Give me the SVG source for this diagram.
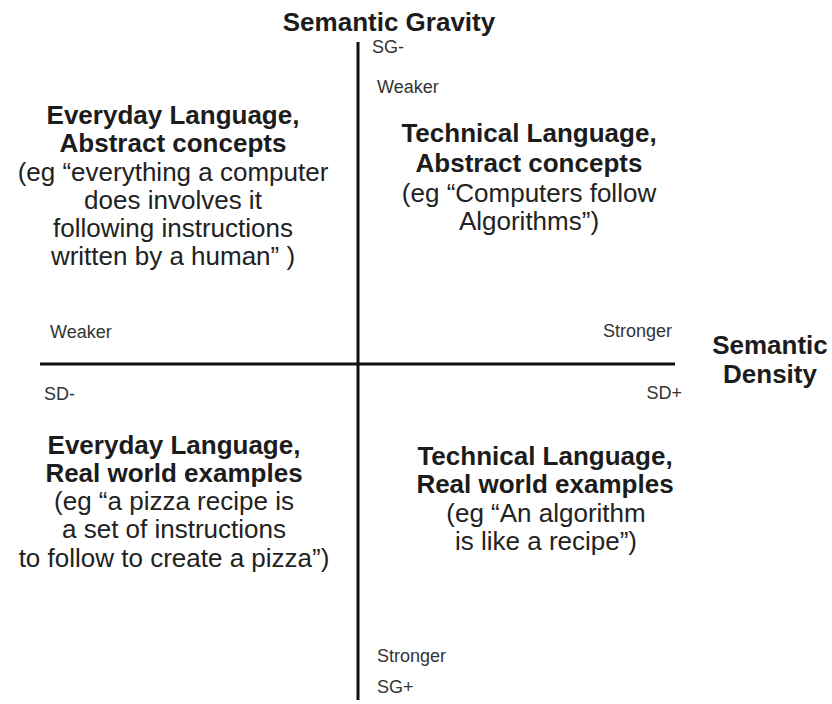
<svg xmlns="http://www.w3.org/2000/svg" width="832" height="704" viewBox="0 0 832 704">
  <style>
    text { font-family: "Liberation Sans", Arial, Helvetica, sans-serif; fill: #1c1c1c; }
    .title { font-size: 26px; font-weight: bold; text-anchor: middle; }
    .block { font-size: 26px; text-anchor: middle; fill: #222; }
    .b { font-weight: bold; fill: #1c1c1c; }
    .small { font-size: 18px; fill: #333; }
    .axis { stroke: #111; stroke-width: 3; fill: none; }
  </style>
  <rect width="832" height="704" fill="#ffffff"/>
  <g id="axes">
    <line class="axis" x1="358" y1="42" x2="358" y2="700"/>
    <line class="axis" x1="40" y1="364" x2="675" y2="364"/>
  </g>
  <g id="axis-labels">
    <text class="title" x="389" y="31">Semantic Gravity</text>
    <text class="title" x="770" y="354">Semantic<tspan x="770" y="383">Density</tspan></text>
    <text class="small" x="372" y="53">SG-</text>
    <text class="small" x="377" y="93">Weaker</text>
    <text class="small" x="50" y="338">Weaker</text>
    <text class="small" x="672" y="337" text-anchor="end">Stronger</text>
    <text class="small" x="44" y="400">SD-</text>
    <text class="small" x="682" y="399" text-anchor="end">SD+</text>
    <text class="small" x="377" y="662">Stronger</text>
    <text class="small" x="377" y="693">SG+</text>
  </g>
  <g id="q-everyday-abstract">
    <text class="block" x="173" y="124"><tspan class="b" x="173" y="124">Everyday Language,</tspan><tspan class="b" x="173" y="152">Abstract concepts</tspan><tspan x="173" y="181">(eg “everything a computer</tspan><tspan x="173" y="209">does involves it</tspan><tspan x="173" y="237">following instructions</tspan><tspan x="173" y="265">written by a human” )</tspan></text>
  </g>
  <g id="q-technical-abstract">
    <text class="block" x="529" y="142"><tspan class="b" x="529" y="142">Technical Language,</tspan><tspan class="b" x="529" y="172">Abstract concepts</tspan><tspan x="529" y="202">(eg “Computers follow</tspan><tspan x="529" y="230">Algorithms”)</tspan></text>
  </g>
  <g id="q-everyday-real">
    <text class="block" x="174" y="454"><tspan class="b" x="174" y="454">Everyday Language,</tspan><tspan class="b" x="174" y="482">Real world examples</tspan><tspan x="174" y="510">(eg “a pizza recipe is</tspan><tspan x="174" y="538">a set of instructions</tspan><tspan x="174" y="567">to follow to create a pizza”)</tspan></text>
  </g>
  <g id="q-technical-real">
    <text class="block" x="545" y="465"><tspan class="b" x="545" y="465">Technical Language,</tspan><tspan class="b" x="545" y="493">Real world examples</tspan><tspan x="546" y="522">(eg “An algorithm</tspan><tspan x="546" y="550">is like a recipe”)</tspan></text>
  </g>
</svg>
